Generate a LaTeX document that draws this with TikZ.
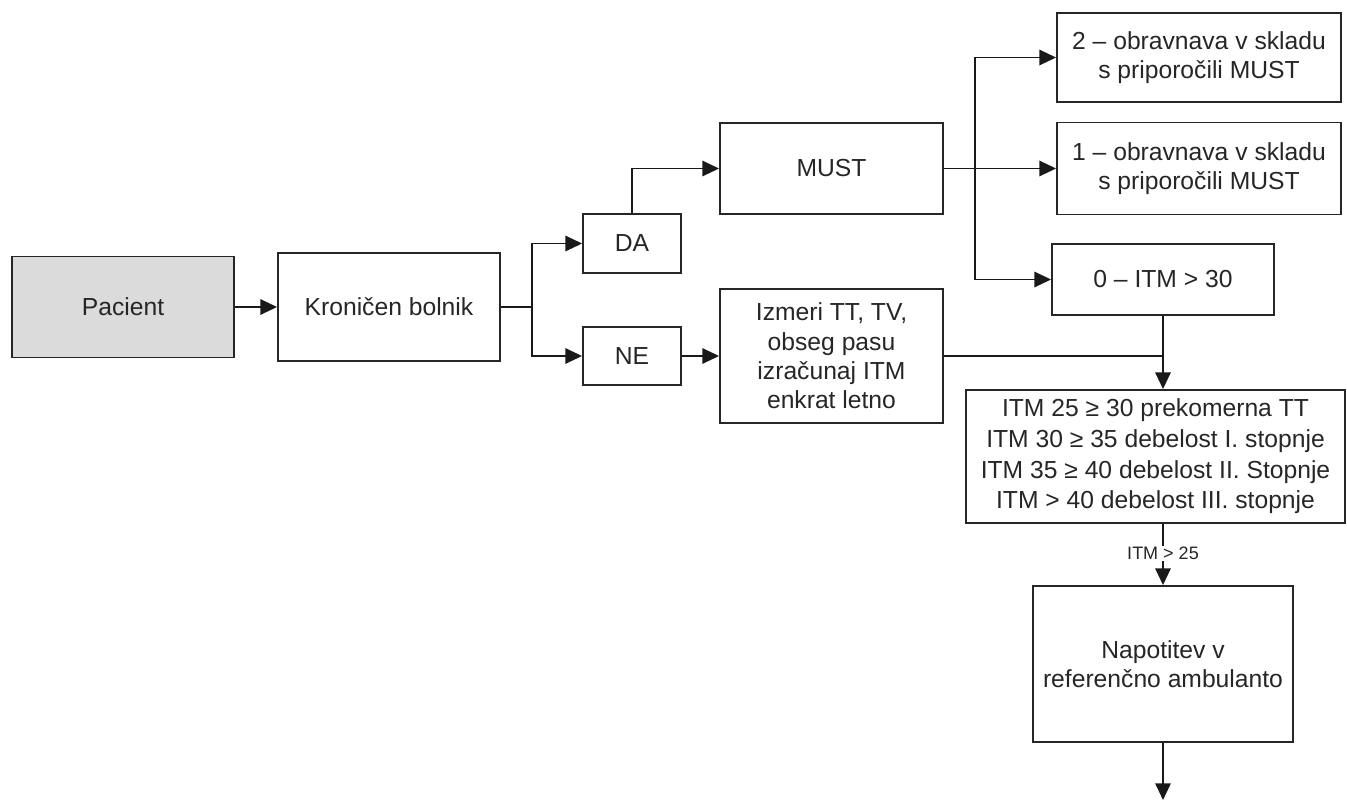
\documentclass[tikz,border=0pt]{standalone}
\usepackage{fontspec}
\setmainfont{Liberation Sans}
\usetikzlibrary{arrows.meta}
\begin{document}
\begin{tikzpicture}[x=0.75pt,y=-0.75pt,
  box/.style={draw=black!85, line width=1.4pt, align=center, inner sep=0pt,
    font=\fontsize{18.5}{22}\selectfont, text=black!85},
  conn/.style={line width=1.4pt, draw=black!90},
  arr/.style={conn, -{Triangle[length=12.5pt,width=11.5pt]}},
  lbl/.style={fill=white, inner sep=1pt, font=\fontsize{13.5}{15}\selectfont, text=black!85}]
\useasboundingbox (0,0) rectangle (1347,800);
\node[box, fill=black!14, minimum width=222*0.75pt, minimum height=101*0.75pt] (pac) at (123,307) {Pacient};
\node[box, minimum width=222*0.75pt, minimum height=108*0.75pt] (kro) at (389,307) {Kroničen bolnik};
\node[box, minimum width=98*0.75pt, minimum height=59*0.75pt] (da) at (632,243.5) {DA};
\node[box, minimum width=98*0.75pt, minimum height=58*0.75pt] (ne) at (632,356) {NE};
\node[box, minimum width=223*0.75pt, minimum height=91*0.75pt] (must) at (831.5,168.5) {MUST};
\node[box, minimum width=223*0.75pt, minimum height=134*0.75pt] (izm) at (831.5,356) {Izmeri TT, TV,\\obseg pasu\\izračunaj ITM\\enkrat letno};
\node[box, minimum width=284*0.75pt, minimum height=89*0.75pt] (b2) at (1199,57.5) {2 – obravnava v skladu\\s priporočili MUST};
\node[box, minimum width=284*0.75pt, minimum height=92*0.75pt] (b1) at (1199,168.5) {1 – obravnava v skladu\\s priporočili MUST};
\node[box, minimum width=222*0.75pt, minimum height=71*0.75pt] (b0) at (1163,279.5) {0 – ITM > 30};
\node[box, minimum width=379*0.75pt, minimum height=133*0.75pt, font=\fontsize{18.5}{23}\selectfont] (itm) at (1155.5,456.5) {ITM 25 ≥ 30 prekomerna TT\\ITM 30 ≥ 35 debelost I. stopnje\\ITM 35 ≥ 40 debelost II. Stopnje\\ITM > 40 debelost III. stopnje};
\node[box, minimum width=260*0.75pt, minimum height=156*0.75pt] (nap) at (1163,664) {Napotitev v\\referenčno ambulanto};
\coordinate (split) at (532,307);
\coordinate (bus) at (975,168.5);
\coordinate (join) at (1163,356);
\coordinate (end) at (1163,800);
\draw[arr] (pac.east) -- (kro.west);
\draw[conn] (kro.east) -- (split);
\draw[arr] (split) |- (da.west);
\draw[arr] (split) |- (ne.west);
\draw[arr] (da.north) |- (must.west);
\draw[arr] (must.east) -- (b1.west);
\draw[arr] (bus) |- (b2.west);
\draw[arr] (bus) |- (b0.west);
\draw[arr] (ne.east) -- (izm.west);
\draw[conn] (izm.east) -- (join);
\draw[arr] (b0.south) -- (b0.south |- itm.north);
\draw[arr] (nap.north |- itm.south) -- node[lbl, pos=0.48] (lab) {ITM > 25} (nap.north);
\draw[arr] (nap.south) -- (end);
\end{tikzpicture}
\end{document}
